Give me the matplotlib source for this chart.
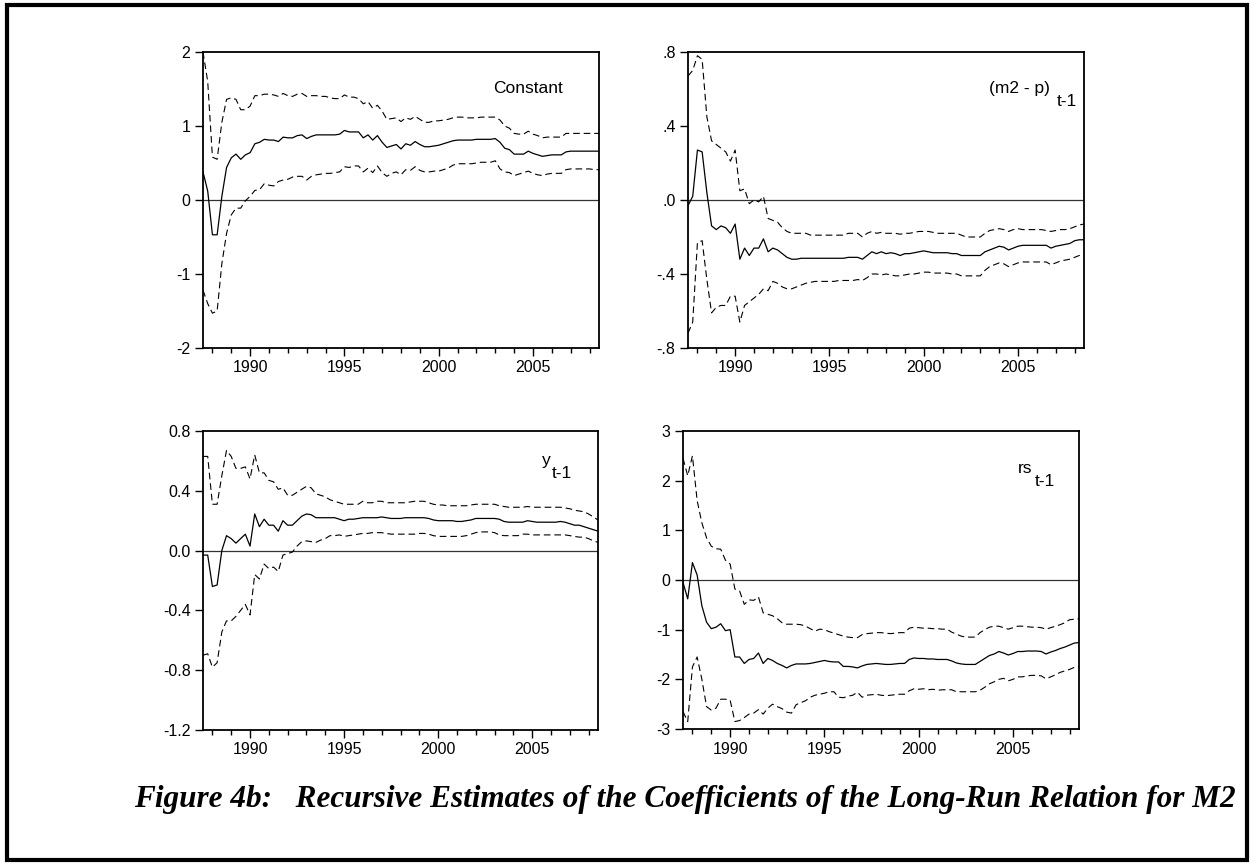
import numpy as np
import matplotlib
matplotlib.use("Agg")
import matplotlib.pyplot as plt
from matplotlib.patches import Rectangle

# quarterly observations 1987Q3 .. 2008Q3
dates = 1987.5 + 0.25 * np.arange(85)

const_est = [0.38, 0.12, -0.47, -0.47, 0.05, 0.44, 0.57, 0.62, 0.55, 0.61,
             0.64, 0.76, 0.78, 0.82, 0.81, 0.81, 0.79, 0.85, 0.84, 0.84,
             0.87, 0.88, 0.83, 0.86, 0.88, 0.88, 0.88, 0.88, 0.88, 0.89,
             0.94, 0.92, 0.92, 0.92, 0.84, 0.88, 0.81, 0.87, 0.78, 0.71,
             0.73, 0.75, 0.69, 0.76, 0.74, 0.79, 0.75, 0.72, 0.72, 0.73,
             0.74, 0.76, 0.78, 0.80, 0.81, 0.81, 0.81, 0.81, 0.82, 0.82,
             0.82, 0.82, 0.83, 0.78, 0.70, 0.68, 0.62, 0.62, 0.62, 0.66,
             0.63, 0.61, 0.59, 0.60, 0.61, 0.61, 0.61, 0.65, 0.66, 0.66,
             0.66, 0.66, 0.66, 0.66, 0.66]
const_hi = [2.00, 1.60, 0.58, 0.55, 1.05, 1.36, 1.38, 1.36, 1.22, 1.22,
            1.27, 1.41, 1.41, 1.43, 1.43, 1.42, 1.40, 1.44, 1.41, 1.40,
            1.43, 1.44, 1.40, 1.41, 1.41, 1.40, 1.40, 1.38, 1.37, 1.37,
            1.42, 1.39, 1.39, 1.37, 1.30, 1.33, 1.24, 1.28, 1.20, 1.09,
            1.10, 1.11, 1.06, 1.11, 1.09, 1.13, 1.09, 1.05, 1.05, 1.07,
            1.07, 1.08, 1.09, 1.11, 1.12, 1.12, 1.11, 1.11, 1.11, 1.12,
            1.12, 1.12, 1.12, 1.08, 1.00, 0.97, 0.90, 0.89, 0.89, 0.93,
            0.89, 0.87, 0.84, 0.85, 0.85, 0.85, 0.85, 0.90, 0.90, 0.90,
            0.90, 0.90, 0.90, 0.90, 0.90]
const_lo = [-1.22, -1.40, -1.53, -1.50, -0.86, -0.45, -0.20, -0.11, -0.11, -0.01,
            0.05, 0.13, 0.14, 0.22, 0.20, 0.19, 0.25, 0.27, 0.28, 0.31,
            0.32, 0.32, 0.27, 0.32, 0.34, 0.35, 0.36, 0.36, 0.37, 0.38,
            0.45, 0.44, 0.46, 0.46, 0.38, 0.43, 0.37, 0.46, 0.37, 0.32,
            0.36, 0.38, 0.34, 0.41, 0.40, 0.45, 0.40, 0.38, 0.38, 0.39,
            0.39, 0.41, 0.43, 0.47, 0.49, 0.49, 0.49, 0.49, 0.50, 0.51,
            0.51, 0.51, 0.53, 0.42, 0.38, 0.37, 0.33, 0.35, 0.37, 0.39,
            0.36, 0.34, 0.33, 0.35, 0.36, 0.36, 0.36, 0.41, 0.42, 0.42,
            0.42, 0.42, 0.42, 0.41, 0.41]

m2p_est = [-0.03, 0.02, 0.27, 0.26, 0.04, -0.14, -0.16, -0.14, -0.15, -0.18,
           -0.13, -0.32, -0.26, -0.30, -0.26, -0.26, -0.21, -0.28, -0.26, -0.27,
           -0.29, -0.31, -0.32, -0.32, -0.315, -0.315, -0.315, -0.315, -0.315, -0.315,
           -0.315, -0.315, -0.315, -0.315, -0.31, -0.31, -0.31, -0.32, -0.30, -0.28,
           -0.29, -0.28, -0.29, -0.285, -0.29, -0.30, -0.29, -0.29, -0.285, -0.28,
           -0.275, -0.28, -0.285, -0.285, -0.285, -0.285, -0.29, -0.29, -0.30, -0.30,
           -0.30, -0.30, -0.30, -0.28, -0.27, -0.26, -0.25, -0.255, -0.27, -0.26,
           -0.25, -0.245, -0.245, -0.245, -0.245, -0.245, -0.245, -0.26, -0.25, -0.245,
           -0.24, -0.235, -0.22, -0.215, -0.215]
m2p_hi = [0.67, 0.70, 0.78, 0.76, 0.45, 0.32, 0.30, 0.28, 0.26, 0.21,
          0.27, 0.05, 0.06, -0.02, 0.00, -0.01, 0.02, -0.10, -0.11, -0.12,
          -0.15, -0.17, -0.18, -0.18, -0.18, -0.18, -0.19, -0.19, -0.19, -0.19,
          -0.19, -0.19, -0.19, -0.19, -0.18, -0.18, -0.18, -0.20, -0.18, -0.17,
          -0.18, -0.175, -0.18, -0.18, -0.18, -0.185, -0.18, -0.18, -0.175, -0.17,
          -0.17, -0.17, -0.175, -0.18, -0.18, -0.18, -0.18, -0.18, -0.19, -0.20,
          -0.20, -0.20, -0.20, -0.18, -0.165, -0.16, -0.155, -0.16, -0.17, -0.16,
          -0.155, -0.16, -0.16, -0.16, -0.16, -0.16, -0.165, -0.17, -0.165, -0.16,
          -0.16, -0.155, -0.145, -0.135, -0.13]
m2p_lo = [-0.72, -0.66, -0.23, -0.22, -0.43, -0.61, -0.58, -0.57, -0.57, -0.52,
          -0.52, -0.66, -0.57, -0.55, -0.53, -0.51, -0.48, -0.49, -0.44, -0.45,
          -0.47, -0.48, -0.48, -0.47, -0.46, -0.45, -0.445, -0.44, -0.44, -0.44,
          -0.44, -0.44, -0.435, -0.435, -0.435, -0.435, -0.43, -0.435, -0.42, -0.40,
          -0.40, -0.405, -0.40, -0.405, -0.41, -0.41, -0.405, -0.40, -0.40, -0.395,
          -0.39, -0.39, -0.395, -0.395, -0.395, -0.395, -0.40, -0.40, -0.41, -0.41,
          -0.41, -0.41, -0.41, -0.38, -0.36, -0.35, -0.34, -0.345, -0.36, -0.35,
          -0.34, -0.335, -0.335, -0.335, -0.335, -0.335, -0.335, -0.35, -0.34, -0.33,
          -0.325, -0.32, -0.31, -0.30, -0.295]

y_est = [-0.03, -0.03, -0.24, -0.23, 0.00, 0.10, 0.08, 0.05, 0.08, 0.11,
         0.03, 0.245, 0.16, 0.21, 0.17, 0.17, 0.13, 0.20, 0.17, 0.17,
         0.20, 0.23, 0.245, 0.24, 0.22, 0.22, 0.22, 0.22, 0.22, 0.21,
         0.20, 0.21, 0.21, 0.215, 0.22, 0.22, 0.22, 0.22, 0.225, 0.22,
         0.215, 0.215, 0.215, 0.22, 0.22, 0.22, 0.22, 0.22, 0.215, 0.205,
         0.20, 0.20, 0.20, 0.20, 0.195, 0.195, 0.20, 0.205, 0.215, 0.215,
         0.215, 0.215, 0.215, 0.21, 0.195, 0.19, 0.19, 0.19, 0.19, 0.20,
         0.195, 0.19, 0.19, 0.19, 0.19, 0.19, 0.195, 0.19, 0.18, 0.17,
         0.17, 0.16, 0.15, 0.14, 0.13]
y_hi = [0.63, 0.63, 0.31, 0.31, 0.50, 0.67, 0.63, 0.55, 0.55, 0.56,
        0.48, 0.64, 0.52, 0.52, 0.47, 0.46, 0.41, 0.42, 0.37, 0.37,
        0.39, 0.41, 0.43, 0.42, 0.38, 0.37, 0.36, 0.34, 0.33, 0.32,
        0.31, 0.31, 0.31, 0.31, 0.33, 0.32, 0.32, 0.33, 0.33, 0.32,
        0.32, 0.32, 0.32, 0.32, 0.325, 0.33, 0.33, 0.33, 0.32, 0.31,
        0.305, 0.305, 0.30, 0.30, 0.30, 0.30, 0.30, 0.305, 0.31, 0.31,
        0.31, 0.31, 0.31, 0.30, 0.295, 0.29, 0.29, 0.29, 0.29, 0.295,
        0.29, 0.29, 0.29, 0.29, 0.29, 0.29, 0.29, 0.285, 0.28, 0.27,
        0.265, 0.26, 0.245, 0.225, 0.205]
y_lo = [-0.70, -0.69, -0.78, -0.75, -0.545, -0.47, -0.47, -0.44, -0.40, -0.36,
        -0.43, -0.16, -0.19, -0.09, -0.12, -0.11, -0.14, -0.03, -0.02, -0.01,
        0.03, 0.06, 0.065, 0.06, 0.055, 0.07, 0.08, 0.10, 0.10, 0.105,
        0.095, 0.10, 0.105, 0.11, 0.115, 0.115, 0.12, 0.12, 0.12, 0.115,
        0.11, 0.11, 0.11, 0.11, 0.11, 0.11, 0.115, 0.115, 0.11, 0.10,
        0.095, 0.095, 0.095, 0.095, 0.095, 0.095, 0.10, 0.11, 0.12, 0.125,
        0.125, 0.125, 0.12, 0.105, 0.10, 0.10, 0.10, 0.10, 0.11, 0.11,
        0.105, 0.105, 0.105, 0.105, 0.105, 0.105, 0.105, 0.105, 0.10, 0.095,
        0.09, 0.09, 0.08, 0.065, 0.055]

rs_est = [-0.05, -0.38, 0.35, 0.10, -0.52, -0.85, -0.98, -0.95, -0.88, -1.02,
          -1.00, -1.55, -1.55, -1.68, -1.60, -1.58, -1.47, -1.68, -1.58, -1.62,
          -1.68, -1.72, -1.77, -1.72, -1.69, -1.69, -1.69, -1.68, -1.66, -1.64,
          -1.62, -1.64, -1.65, -1.65, -1.74, -1.74, -1.75, -1.77, -1.73, -1.70,
          -1.69, -1.68, -1.69, -1.70, -1.70, -1.69, -1.68, -1.68, -1.60, -1.57,
          -1.58, -1.58, -1.59, -1.59, -1.60, -1.60, -1.60, -1.63, -1.67, -1.69,
          -1.70, -1.70, -1.70, -1.64, -1.58, -1.52, -1.49, -1.44, -1.47, -1.51,
          -1.48, -1.44, -1.44, -1.43, -1.43, -1.43, -1.44, -1.49, -1.45, -1.42,
          -1.38, -1.35, -1.31, -1.27, -1.26]
rs_hi = [2.45, 2.10, 2.50, 1.60, 1.15, 0.85, 0.68, 0.63, 0.62, 0.40,
         0.32, -0.18, -0.22, -0.49, -0.40, -0.41, -0.34, -0.66, -0.69, -0.72,
         -0.78, -0.86, -0.89, -0.89, -0.89, -0.90, -0.93, -0.98, -1.03, -0.99,
         -1.00, -1.04, -1.07, -1.10, -1.13, -1.15, -1.16, -1.16, -1.10, -1.08,
         -1.07, -1.06, -1.06, -1.07, -1.08, -1.07, -1.06, -1.06, -0.97, -0.95,
         -0.96, -0.97, -0.97, -0.98, -0.98, -0.99, -0.99, -1.05, -1.09, -1.13,
         -1.15, -1.15, -1.15, -1.06, -1.00, -0.95, -0.93, -0.93, -0.96, -0.99,
         -0.96, -0.93, -0.93, -0.94, -0.95, -0.95, -0.96, -0.99, -0.96, -0.93,
         -0.90, -0.86, -0.80, -0.79, -0.78]
rs_lo = [-2.65, -2.85, -1.75, -1.55, -2.00, -2.55, -2.62, -2.58, -2.40, -2.40,
         -2.42, -2.85, -2.83, -2.77, -2.70, -2.68, -2.61, -2.70, -2.58, -2.50,
         -2.55, -2.59, -2.66, -2.68, -2.51, -2.47, -2.43, -2.36, -2.32, -2.30,
         -2.28, -2.25, -2.25, -2.36, -2.37, -2.34, -2.32, -2.26, -2.36, -2.32,
         -2.31, -2.30, -2.32, -2.33, -2.32, -2.31, -2.30, -2.30, -2.23, -2.19,
         -2.20, -2.19, -2.21, -2.20, -2.22, -2.21, -2.21, -2.21, -2.25, -2.25,
         -2.25, -2.25, -2.25, -2.22, -2.16, -2.09, -2.05, -2.00, -1.98, -2.03,
         -2.00, -1.95, -1.95, -1.93, -1.92, -1.92, -1.93, -1.99, -1.95, -1.91,
         -1.86, -1.83, -1.80, -1.76, -1.74]

const_ticks = [-2, -1, 0, 1, 2]
const_labels = ["-2", "-1", "0", "1", "2"]
m2p_ticks = [-0.8, -0.4, 0.0, 0.4, 0.8]
m2p_labels = ["-.8", "-.4", ".0", ".4", ".8"]
y_ticks = [-1.2, -0.8, -0.4, 0.0, 0.4, 0.8]
y_labels = ["-1.2", "-0.8", "-0.4", "0.0", "0.4", "0.8"]
rs_ticks = [-3, -2, -1, 0, 1, 2, 3]
rs_labels = ["-3", "-2", "-1", "0", "1", "2", "3"]
year_ticks = [1990, 1995, 2000, 2005]

plt.rcParams['font.family'] = ['Liberation Sans', 'DejaVu Sans']

W, H = 1253, 865
fig = plt.figure(figsize=(W / 100, H / 100), dpi=100)


def make_axes(left, top, right, bottom):
    return fig.add_axes([left / W, 1 - bottom / H, (right - left) / W, (bottom - top) / H])


def draw_panel(ax, est, hi, lo, ylim, ticks, labels):
    ax.axhline(0, color='#333333', lw=0.9, zorder=1)
    ax.plot(dates, est, color='black', lw=0.9, zorder=3)
    ax.plot(dates, hi, color='black', lw=0.8, linestyle=(0, (6, 3.5)), zorder=3)
    ax.plot(dates, lo, color='black', lw=0.8, linestyle=(0, (6, 3.5)), zorder=3)
    ax.set_xlim(1987.5, 2008.5)
    ax.set_ylim(*ylim)
    ax.set_xticks(year_ticks)
    ax.set_xticklabels([str(y) for y in year_ticks])
    ax.set_xticks(range(1988, 2009), minor=True)
    ax.set_yticks(ticks)
    ax.set_yticklabels(labels)
    ax.tick_params(which='major', direction='out', length=6, width=1.0,
                   labelsize=11.5, pad=3, top=False, right=False)
    ax.tick_params(which='minor', direction='out', length=3.5, width=1.0,
                   top=False, right=False)
    for s in ax.spines.values():
        s.set_linewidth(1.3)


ax1 = make_axes(203, 52, 599, 348)
draw_panel(ax1, const_est, const_hi, const_lo, (-2, 2), const_ticks, const_labels)
ax1.text(0.732, 0.878, "Constant", transform=ax1.transAxes, fontsize=12.5, va='center')

ax2 = make_axes(688, 52, 1084, 348)
draw_panel(ax2, m2p_est, m2p_hi, m2p_lo, (-0.8, 0.8), m2p_ticks, m2p_labels)
ax2.text(0.760, 0.878, "(m2 - p)", transform=ax2.transAxes, fontsize=12.5, va='center')
ax2.text(0.930, 0.834, "t-1", transform=ax2.transAxes, fontsize=12.5, va='center')

ax3 = make_axes(203, 431, 598, 730)
draw_panel(ax3, y_est, y_hi, y_lo, (-1.2, 0.8), y_ticks, y_labels)
ax3.text(0.859, 0.900, "y", transform=ax3.transAxes, fontsize=12.5, va='center')
ax3.text(0.884, 0.858, "t-1", transform=ax3.transAxes, fontsize=12.5, va='center')

ax4 = make_axes(683, 431, 1079, 729)
draw_panel(ax4, rs_est, rs_hi, rs_lo, (-3, 3), rs_ticks, rs_labels)
ax4.text(0.845, 0.875, "rs", transform=ax4.transAxes, fontsize=12.5, va='center')
ax4.text(0.889, 0.832, "t-1", transform=ax4.transAxes, fontsize=12.5, va='center')

fig.text(685 / W, 1 - 800 / H,
         "Figure 4b:   Recursive Estimates of the Coefficients of the Long-Run Relation for M2",
         ha='center', va='center', fontsize=22.5, fontweight='bold', fontstyle='italic',
         family=['Liberation Serif', 'DejaVu Serif'])

fig.add_artist(Rectangle((7 / W, 5 / H), (1247 - 7) / W, (860 - 5) / H,
                         transform=fig.transFigure, fill=False, lw=3, ec='black'))

fig.savefig("out.png", dpi=100)
